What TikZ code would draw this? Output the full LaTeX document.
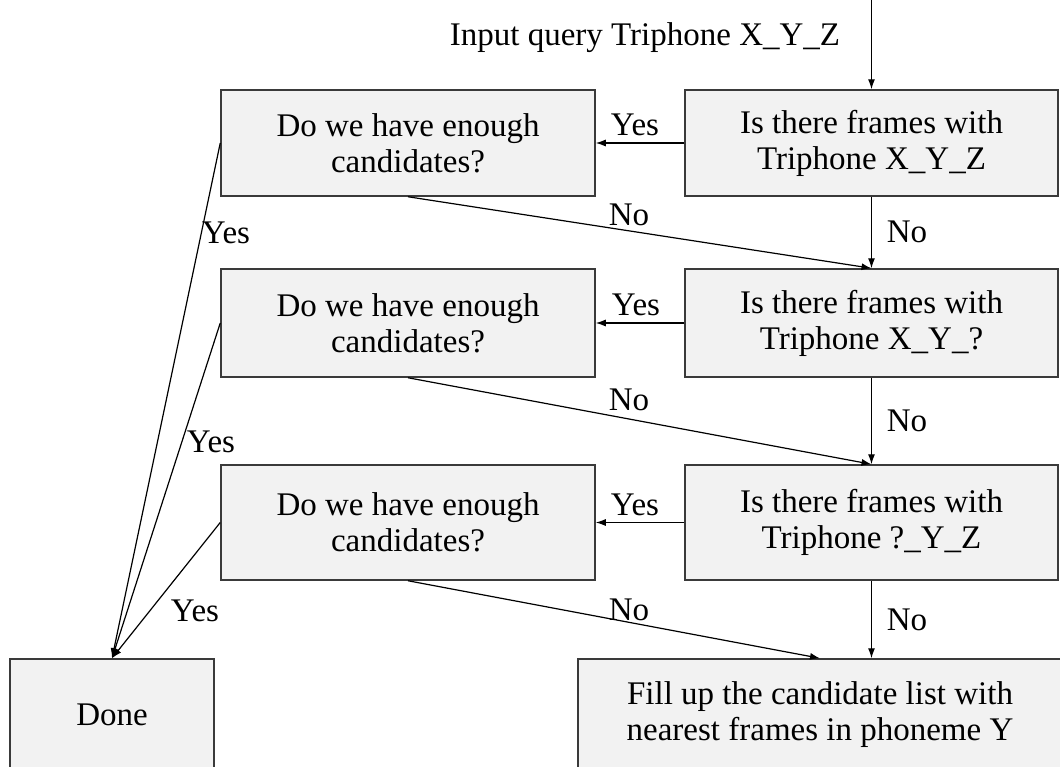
\documentclass[tikz,border=0pt]{standalone}
\usepackage{fontspec}
\setmainfont{Liberation Serif}
\usetikzlibrary{arrows.meta}
\definecolor{boxfill}{HTML}{F2F2F2}
\definecolor{boxline}{HTML}{3A3A3A}
\tikzset{
  stepbox/.style={draw=boxline, line width=1.5pt, fill=boxfill, align=center,
    inner sep=0pt, font=\fontsize{33}{36}\selectfont},
  flow/.style={draw=black, line width=1.2pt, -{Latex[length=10pt,width=7pt]}},
  lbl/.style={font=\fontsize{33}{36}\selectfont, inner sep=0pt}
}
\begin{document}
\begin{tikzpicture}[x=1pt,y=-1pt]
\useasboundingbox (0,0) rectangle (1060,766);
\begin{scope}
\clip (0,0) rectangle (1060,766);
% right column: the triphone tests
\node[stepbox, minimum width=373pt, minimum height=106pt] (r1) at (871.5,143)
  {Is there frames with\\Triphone X\_Y\_Z};
\node[stepbox, minimum width=373pt, minimum height=108pt] (r2) at (871.5,323)
  {Is there frames with\\Triphone X\_Y\_?};
\node[stepbox, minimum width=373pt, minimum height=115pt] (r3) at (871.5,522.5)
  {Is there frames with\\Triphone ?\_Y\_Z};
% left column: candidate count checks
\node[stepbox, minimum width=374pt, minimum height=106pt] (l1) at (408,143)
  {Do we have enough\\candidates?};
\node[stepbox, minimum width=374pt, minimum height=108pt] (l2) at (408,323)
  {Do we have enough\\candidates?};
\node[stepbox, minimum width=374pt, minimum height=115pt] (l3) at (408,522.5)
  {Do we have enough\\candidates?};
% terminal boxes
\node[stepbox, minimum width=204pt, minimum height=112pt] (done) at (112,715) {Done};
\node[stepbox, minimum width=484pt, minimum height=112pt] (fill) at (820,715)
  {Fill up the candidate list with\\nearest frames in phoneme Y};
\end{scope}

% input
\coordinate (in) at (871.5,0);
\node[lbl] (inlbl) at (645,38) {Input query Triphone X\_Y\_Z};
\draw[flow] (in) -- (r1.north);

% Yes: right to left
\draw[flow] (r1.west) -- (l1.east);
\draw[flow] (r2.west) -- (l2.east);
\draw[flow] (r3.west) -- (l3.east);
\node[lbl] (y1) at (635,125) {Yes};
\node[lbl] (y2) at (636,305) {Yes};
\node[lbl] (y3) at (635,505) {Yes};

% No: down the right column
\draw[flow] (r1.south) -- (r2.north);
\draw[flow] (r2.south) -- (r3.north);
\draw[flow] (r3.south) -- (r3.south |- fill.north);
\node[lbl] (n1) at (907,232) {No};
\node[lbl] (n2) at (907,421) {No};
\node[lbl] (n3) at (907,620) {No};

% No: not enough candidates, go to next test
\draw[flow] (l1.south) -- (r2.north);
\draw[flow] (l2.south) -- (r3.north);
\draw[flow] (l3.south) -- (fill.north);
\node[lbl] (d1) at (629,215) {No};
\node[lbl] (d2) at (629,400) {No};
\node[lbl] (d3) at (629,610) {No};

% Yes: enough candidates, done
\draw[flow] (l1.west) -- (done.north);
\draw[flow] (l2.west) -- (done.north);
\draw[flow] (l3.west) -- (done.north);
\node[lbl] (e1) at (226,233) {Yes};
\node[lbl] (e2) at (211,442) {Yes};
\node[lbl] (e3) at (195,611) {Yes};
\end{tikzpicture}
\end{document}
